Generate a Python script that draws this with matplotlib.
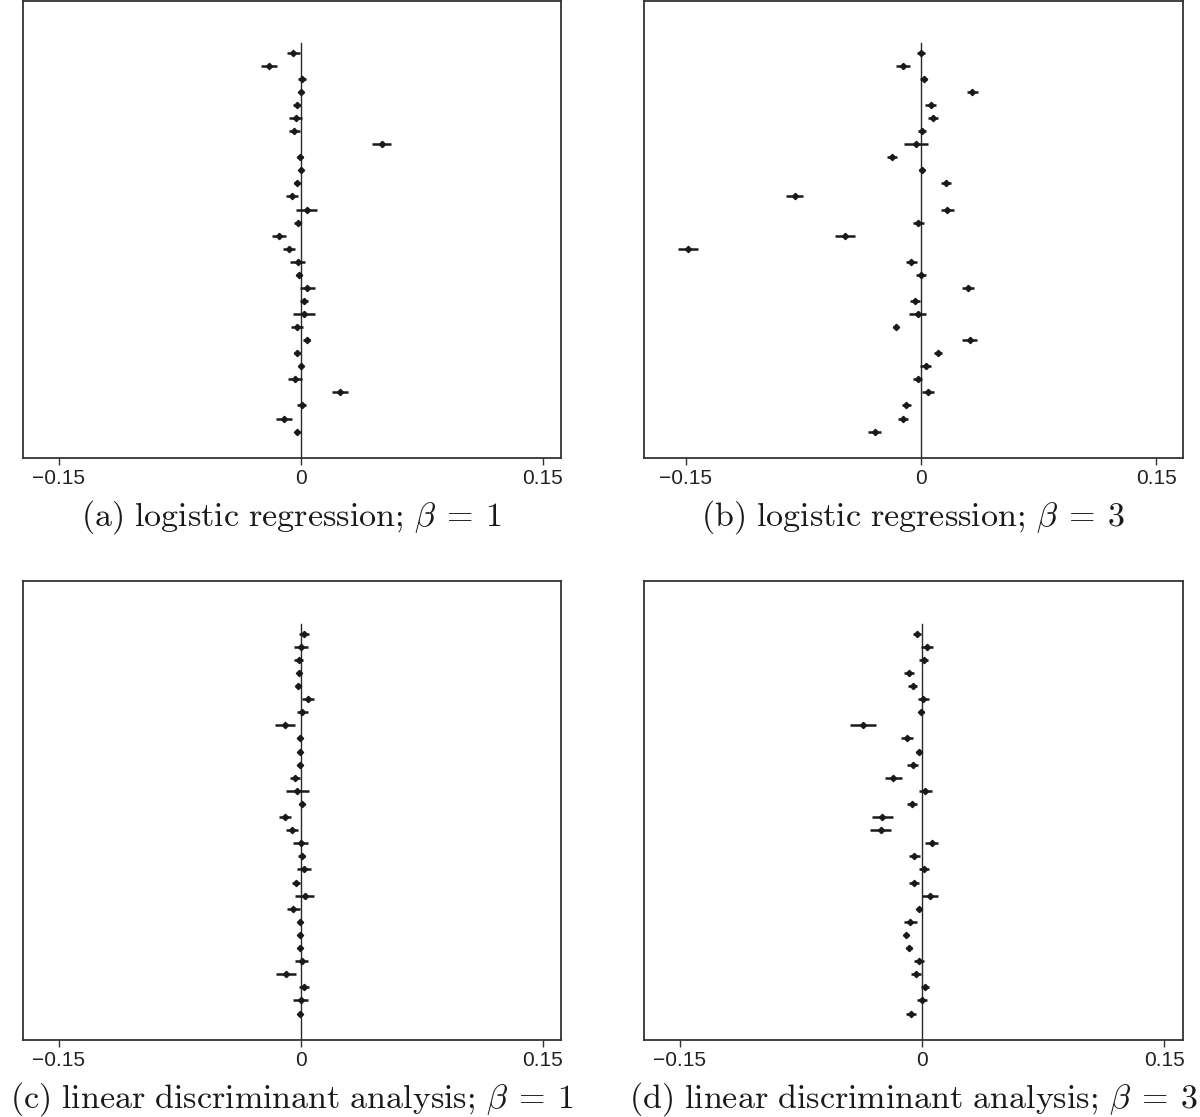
import numpy as np
import matplotlib
matplotlib.use("Agg")
import matplotlib.pyplot as plt

plt.rcParams['mathtext.fontset'] = 'cm'
plt.rcParams['font.family'] = ['Liberation Sans', 'DejaVu Sans']

# estimates and half-widths of the intervals, listed top to bottom
est_a = [-0.0045, -0.0197, 0.0007, 0.0, -0.0026, -0.0031, -0.0040, 0.0502, -0.0002, 0.0,
         -0.0024, -0.0054, 0.0036, -0.0019, -0.0133, -0.0071, -0.0019, -0.0010, 0.0040, 0.0019,
         0.0021, -0.0024, 0.0036, -0.0024, 0.0, -0.0033, 0.0242, 0.0005, -0.0104, -0.0021]
err_a = [0.0038, 0.0052, 0.0026, 0.0015, 0.0022, 0.0039, 0.0034, 0.0058, 0.0018, 0.0012,
         0.0018, 0.0038, 0.0068, 0.0020, 0.0043, 0.0037, 0.0045, 0.0018, 0.0046, 0.0024,
         0.0066, 0.0037, 0.0020, 0.0018, 0.0012, 0.0043, 0.0049, 0.0028, 0.0051, 0.0015]

est_b = [0.0, -0.0113, 0.0017, 0.0328, 0.0061, 0.0076, 0.0007, -0.0029, -0.0184, 0.0005,
         0.0157, -0.0806, 0.0169, -0.0017, -0.0487, -0.1487, -0.0061, 0.0, 0.0301, -0.0037,
         -0.0022, -0.0162, 0.0311, 0.0108, 0.0032, -0.0022, 0.0044, -0.0093, -0.0115, -0.0296]
err_b = [0.0025, 0.0044, 0.0023, 0.0034, 0.0034, 0.0033, 0.0023, 0.0077, 0.0034, 0.0015,
         0.0032, 0.0053, 0.0044, 0.0035, 0.0064, 0.0065, 0.0036, 0.0034, 0.0037, 0.0032,
         0.0054, 0.0015, 0.0049, 0.0027, 0.0035, 0.0027, 0.0037, 0.0030, 0.0032, 0.0043]

est_c = [0.0019, 0.0002, -0.0012, -0.0009, -0.0014, 0.0043, 0.0009, -0.0097, -0.0007, -0.0002,
         -0.0007, -0.0036, -0.0021, 0.0009, -0.0097, -0.0052, 0.0, 0.0005, 0.0021, -0.0028,
         0.0024, -0.0047, -0.0005, -0.0005, -0.0007, 0.0005, -0.0092, 0.0019, 0.0, -0.0002]
err_c = [0.0031, 0.0045, 0.0029, 0.0012, 0.0014, 0.0037, 0.0034, 0.0060, 0.0014, 0.0012,
         0.0014, 0.0030, 0.0071, 0.0017, 0.0037, 0.0037, 0.0045, 0.0021, 0.0045, 0.0025,
         0.0057, 0.0040, 0.0014, 0.0014, 0.0012, 0.0038, 0.0060, 0.0031, 0.0047, 0.0012]

est_d = [-0.0033, 0.0031, 0.0009, -0.0083, -0.0059, 0.0007, -0.0005, -0.0365, -0.0092, -0.0021,
         -0.0059, -0.0178, 0.0019, -0.0062, -0.0246, -0.0256, 0.0059, -0.0047, 0.0014, -0.0050,
         0.0050, -0.0017, -0.0073, -0.0097, -0.0083, -0.0019, -0.0040, 0.0019, 0.0, -0.0069]
err_d = [0.0026, 0.0038, 0.0027, 0.0030, 0.0028, 0.0033, 0.0015, 0.0080, 0.0037, 0.0015,
         0.0033, 0.0051, 0.0040, 0.0032, 0.0065, 0.0064, 0.0038, 0.0033, 0.0031, 0.0032,
         0.0049, 0.0015, 0.0039, 0.0016, 0.0018, 0.0028, 0.0031, 0.0024, 0.0032, 0.0032]

captions = [r'$\mathrm{(a)\ logistic\ regression;}\,\beta\:=\:1$',
            r'$\mathrm{(b)\ logistic\ regression;}\,\beta\:=\:3$',
            r'$\mathrm{(c)\ linear\ discriminant\ analysis;}\,\beta\:=\:1$',
            r'$\mathrm{(d)\ linear\ discriminant\ analysis;}\,\beta\:=\:3$']
tick_vals = [-0.15, 0, 0.15]
tick_labels = ['\u22120.15', '0', '0.15']

panels = [(est_a, err_a, (-0.1723, 0.1613), [0.0189, 0.5902, 0.4486, 0.4093]),
          (est_b, err_b, (-0.1768, 0.1669), [0.5364, 0.5902, 0.4492, 0.4093]),
          (est_c, err_c, (-0.1723, 0.1613), [0.0189, 0.0692, 0.4486, 0.4104]),
          (est_d, err_d, (-0.1723, 0.1613), [0.5364, 0.0692, 0.4492, 0.4104])]

fig = plt.figure(figsize=(12, 11.17), dpi=100)

for (est, err, xlim, rect), cap in zip(panels, captions):
    ax = fig.add_axes(rect)
    n = len(est)
    ypos = np.arange(n, 0, -1)
    ax.plot([0, 0], [-1, n + 0.75], color='#2a2a2a', lw=1.0, zorder=1)
    ax.errorbar(est, ypos, xerr=err, fmt='D', color='#1a1a1a', ms=3.2,
                elinewidth=1.8, capsize=0, zorder=2)
    ax.set_xlim(*xlim)
    ax.set_ylim(-1, n + 4)
    ax.set_yticks([])
    ax.set_xticks(tick_vals)
    ax.set_xticklabels(tick_labels)
    ax.tick_params(axis='x', direction='out', length=5, width=1.0,
                   color='#333333', labelsize=15, pad=3, labelcolor='#222222')
    for s in ax.spines.values():
        s.set_color('#333333')
        s.set_linewidth(1.3)
    ax.text(0.5, -0.149, cap, transform=ax.transAxes, ha='center',
            va='baseline', fontsize=24.5, color='#1a1a1a')

fig.savefig('out.png', dpi=100)
